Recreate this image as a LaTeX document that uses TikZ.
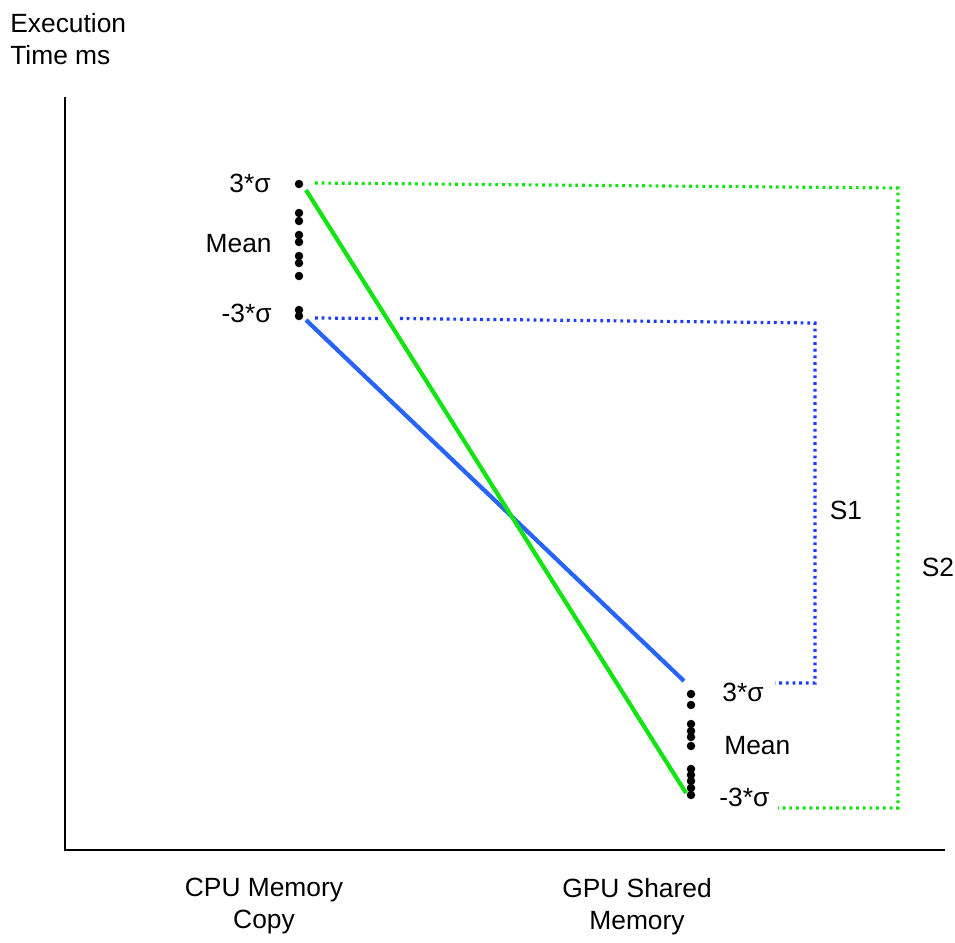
\documentclass[tikz,border=0pt]{standalone}
\usepackage{fontspec}
\setmainfont{Liberation Sans}
\usepackage{tikz}
\usetikzlibrary{positioning}
\definecolor{lgreen}{RGB}{20,228,20}
\definecolor{lblue}{RGB}{40,100,250}
\definecolor{dblue}{RGB}{30,60,250}

\begin{document}
\begin{tikzpicture}[font=\fontsize{15}{18}\selectfont,
  axis/.style={line width=1.6pt},
  solidline/.style={line width=2.4pt},
  dotline/.style={line width=1.8pt,dash pattern=on 1.6pt off 2.2pt},
  lab/.style={inner sep=0pt}]
\useasboundingbox (0,0) rectangle (19.10,-18.84);
% axes
\coordinate (ytop) at (1.30,-1.94);
\coordinate (orig) at (1.30,-17.00);
\coordinate (xend) at (18.90,-17.00);
\draw[axis] (ytop)--(orig)--(xend);
\node[lab,anchor=north west,align=left] (ylab) at (0.20,-0.26) {Execution\\Time ms};
\node[lab,anchor=north,align=center] (cpu) at (5.28,-17.56) {CPU Memory\\Copy};
\node[lab,anchor=north,align=center] (gpu) at (12.74,-17.56) {GPU Shared\\Memory};
% sample dots
\foreach \y in {-3.68,-4.26,-4.42,-4.70,-4.84,-5.12,-5.26,-5.52,-6.20,-6.32}
  \fill (5.98,\y) circle (0.085);
\foreach \y in {-13.88,-14.10,-14.48,-14.62,-14.74,-14.92,-15.38,-15.50,-15.62,-15.76,-15.90}
  \fill (13.82,\y) circle (0.085);
\node[lab,anchor=east] (cpuhi) at (5.42,-3.66) {3*σ};
\node[lab,anchor=east] (cpumean) at (5.44,-4.88) {Mean};
\node[lab,anchor=east] (cpulo) at (5.44,-6.26) {-3*σ};
\node[lab,anchor=west] (gpuhi) at (14.44,-13.84) {3*σ};
\node[lab,anchor=west] (gpumean) at (14.48,-14.92) {Mean};
\node[lab,anchor=west] (gpulo) at (14.38,-15.94) {-3*σ};
% connecting lines
\coordinate (ga) at (6.12,-3.80);
\coordinate (gb) at (13.72,-15.86);
\coordinate (ba) at (6.12,-6.40);
\coordinate (bb) at (13.68,-13.62);
\draw[solidline,lblue] (ba)--(bb);
\draw[solidline,lgreen] (ga)--(gb);
% spans
\coordinate (s2a) at (6.30,-3.66);
\coordinate (s2b) at (17.96,-3.76);
\coordinate (s2c) at (17.96,-16.16);
\coordinate (s2d) at (15.56,-16.16);
\draw[dotline,lgreen] (s2a)--(s2b)--(s2c)--(s2d);
\coordinate (s1a) at (6.30,-6.36);
\coordinate (s1g) at (7.56,-6.37);
\coordinate (s1h) at (8.00,-6.37);
\coordinate (s1b) at (16.30,-6.46);
\coordinate (s1c) at (16.30,-13.66);
\coordinate (s1d) at (15.50,-13.66);
\draw[dotline,dblue] (s1a)--(s1g) (s1h)--(s1b)--(s1c)--(s1d);
\node[lab] (s1) at (16.92,-10.20) {S1};
\node[lab] (s2) at (18.76,-11.34) {S2};
\end{tikzpicture}
\end{document}
